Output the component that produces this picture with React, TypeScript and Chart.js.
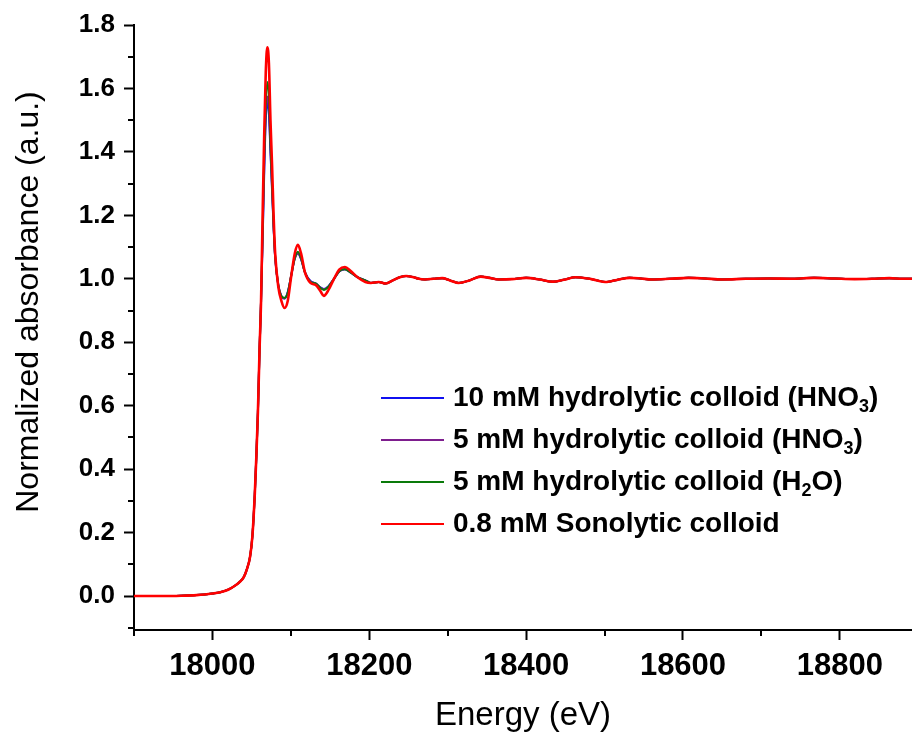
import React, { useEffect, useRef } from 'react';
import { Chart, registerables } from 'chart.js';

Chart.register(...registerables);

// ---------- data ----------
const preEdgeEnergy = [17900, 17920, 17940, 17960, 17980, 17990, 18000, 18010, 18020, 18030, 18035, 18040, 18044, 18048, 18051, 18054, 18056, 18058, 18060, 18062];
const preEdgeValues = [0, 0, 0, 0.001, 0.003, 0.005, 0.008, 0.012, 0.02, 0.035, 0.045, 0.06, 0.085, 0.124, 0.19, 0.32, 0.44, 0.58, 0.77, 0.93];

const edgeEnergy = [18064, 18066, 18068, 18070, 18072, 18074, 18076, 18078, 18080, 18084, 18088, 18092, 18096, 18100, 18105, 18109, 18113, 18118, 18125, 18132, 18138, 18142, 18148, 18155, 18162, 18169, 18176, 18185, 18195];
const blue10mMEdge = [1.12, 1.33, 1.5, 1.555, 1.52, 1.4, 1.28, 1.16, 1.065, 0.98, 0.945, 0.938, 0.958, 1.005, 1.065, 1.08, 1.062, 1.02, 0.993, 0.985, 0.972, 0.968, 0.977, 1.0, 1.024, 1.03, 1.02, 1.005, 0.995];
const purple5mMEdge = [1.13, 1.35, 1.52, 1.575, 1.54, 1.41, 1.29, 1.165, 1.068, 0.98, 0.945, 0.938, 0.956, 1.003, 1.063, 1.08, 1.063, 1.02, 0.992, 0.985, 0.972, 0.967, 0.976, 1.0, 1.024, 1.03, 1.02, 1.005, 0.995];
const green5mMEdge = [1.15, 1.38, 1.55, 1.62, 1.58, 1.43, 1.3, 1.17, 1.07, 0.98, 0.945, 0.94, 0.955, 1.005, 1.065, 1.085, 1.065, 1.02, 0.99, 0.985, 0.97, 0.965, 0.975, 1.0, 1.025, 1.03, 1.02, 1.005, 0.995];
const redSonoEdge = [1.2, 1.45, 1.65, 1.73, 1.68, 1.5, 1.36, 1.2, 1.08, 0.975, 0.93, 0.908, 0.93, 1.0, 1.08, 1.107, 1.08, 1.02, 0.987, 0.98, 0.96, 0.946, 0.965, 1.0, 1.03, 1.037, 1.025, 1.005, 0.99];

const tailEnergy = [18202, 18212, 18221, 18230, 18240, 18247, 18255, 18263, 18271, 18282, 18293, 18303, 18314, 18328, 18342, 18353, 18365, 18382, 18400, 18417, 18434, 18448, 18463, 18483, 18503, 18518, 18532, 18546, 18560, 18583, 18607, 18628, 18650, 18680, 18710, 18740, 18767, 18793, 18819, 18841, 18863, 18880, 18892];
const tailValues = [0.987, 0.99, 0.985, 0.995, 1.006, 1.009, 1.006, 1.0, 0.998, 1.0, 1.002, 0.995, 0.987, 0.995, 1.007, 1.003, 0.998, 0.999, 1.003, 0.998, 0.991, 0.997, 1.005, 0.999, 0.99, 0.998, 1.003, 1.001, 0.998, 1.0, 1.003, 1.001, 0.998, 1.0, 1.001, 1.0, 1.003, 1.001, 0.999, 1.0, 1.002, 1.0, 1.0];

const seriesLabels = [
  '10 mM hydrolytic colloid (HNO₃)',
  '5 mM hydrolytic colloid (HNO₃)',
  '5 mM hydrolytic colloid (H₂O)',
  '0.8 mM Sonolytic colloid',
];
const seriesColors = ['#1010F0', '#7E1E8E', '#0A7A0A', '#FF0000'];
const seriesEdges = [blue10mMEdge, purple5mMEdge, green5mMEdge, redSonoEdge];

const xMajorTicks = [18000, 18200, 18400, 18600, 18800];
const xMinorTicks = [17900, 18100, 18300, 18500, 18700];
const yMajorTicks = [0, 0.2, 0.4, 0.6, 0.8, 1.0, 1.2, 1.4, 1.6, 1.8];
const yMinorTicks = [-0.1, 0.1, 0.3, 0.5, 0.7, 0.9, 1.1, 1.3, 1.5, 1.7];

const xTitle = 'Energy (eV)';
const yTitle = 'Normalized absorbance (a.u.)';

const allEnergy = [...preEdgeEnergy, ...edgeEnergy, ...tailEnergy];

function buildPoints(edge: number[]) {
  const vals = [...preEdgeValues, ...edge, ...tailValues];
  return allEnergy.map((e, i) => ({ x: e, y: vals[i] }));
}

const FONT = "'Liberation Sans', Arial, sans-serif";

const minorTickPlugin = {
  id: 'minorTicks',
  afterDraw(chart: any) {
    const { ctx, scales, chartArea } = chart;
    ctx.save();
    ctx.strokeStyle = '#000';
    ctx.lineWidth = 2;
    ctx.beginPath();
    xMinorTicks.forEach((v) => {
      const px = Math.round(scales.x.getPixelForValue(v));
      ctx.moveTo(px, chartArea.bottom);
      ctx.lineTo(px, chartArea.bottom + 6);
    });
    yMinorTicks.forEach((v) => {
      const py = Math.round(scales.y.getPixelForValue(v));
      ctx.moveTo(chartArea.left, py);
      ctx.lineTo(chartArea.left - 6, py);
    });
    ctx.stroke();
    ctx.restore();
  },
};

const yTitlePlugin = {
  id: 'yTitle',
  afterDraw(chart: any) {
    const { ctx } = chart;
    ctx.save();
    ctx.translate(29, 302);
    ctx.rotate(-Math.PI / 2);
    ctx.fillStyle = '#000';
    ctx.font = `normal 32px ${FONT}`;
    ctx.textAlign = 'center';
    ctx.textBaseline = 'middle';
    ctx.fillText(yTitle, 0, 0);
    ctx.restore();
  },
};

const subMap: Record<string, string> = { '₀': '0', '₁': '1', '₂': '2', '₃': '3', '₄': '4', '₅': '5', '₆': '6', '₇': '7', '₈': '8', '₉': '9' };

const legendPlugin = {
  id: 'customLegend',
  afterDraw(chart: any) {
    const { ctx, chartArea } = chart;
    const lineX0 = chartArea.left + 247;
    const lineX1 = lineX0 + 63;
    const textX = lineX1 + 9;
    const rowY0 = chartArea.top + 373;
    const rowGap = 42;
    ctx.save();
    chart.data.datasets.forEach((ds: any, i: number) => {
      const y = rowY0 + i * rowGap;
      ctx.strokeStyle = ds.borderColor;
      ctx.lineWidth = 2;
      ctx.beginPath();
      ctx.moveTo(lineX0, y);
      ctx.lineTo(lineX1, y);
      ctx.stroke();
      let x = textX;
      ctx.fillStyle = '#000';
      ctx.textBaseline = 'middle';
      ctx.textAlign = 'left';
      for (const ch of Array.from(ds.label as string)) {
        if (subMap[ch]) {
          ctx.font = `bold 18px ${FONT}`;
          ctx.fillText(subMap[ch], x, y + 9);
          x += ctx.measureText(subMap[ch]).width;
        } else {
          ctx.font = `bold 28px ${FONT}`;
          ctx.fillText(ch, x, y);
          x += ctx.measureText(ch).width;
        }
      }
    });
    ctx.restore();
  },
};

export default function App() {
  const canvasRef = useRef<HTMLCanvasElement>(null);

  useEffect(() => {
    document.body.style.margin = '0';
    const canvas = canvasRef.current;
    if (!canvas) return;
    const datasets = seriesLabels.map((label, i) => ({
      label,
      data: buildPoints(seriesEdges[i]),
      borderColor: seriesColors[i],
      backgroundColor: seriesColors[i],
      borderWidth: i === 3 ? 2.6 : 2,
      pointRadius: 0,
      fill: false,
      cubicInterpolationMode: 'monotone' as const,
      order: 3 - i,
    }));

    const chart = new Chart(canvas, {
      type: 'line',
      data: { datasets },
      options: {
        animation: false,
        responsive: false,
        maintainAspectRatio: false,
        layout: { padding: { top: 25, right: 0, left: 0, bottom: 0 } },
        plugins: { legend: { display: false }, tooltip: { enabled: false } },
        scales: {
          x: {
            type: 'linear',
            min: 17900,
            max: 18892,
            afterBuildTicks: (s: any) => {
              s.ticks = xMajorTicks.map((v) => ({ value: v }));
            },
            afterFit: (s: any) => {
              s.height = 106;
            },
            ticks: {
              color: '#000',
              font: { family: "'Liberation Sans Narrow', " + FONT, size: 31, weight: 'bold' },
              padding: 8,
              maxRotation: 0,
              callback: (v: any) => String(v),
            },
            grid: { drawOnChartArea: false, drawTicks: true, tickLength: 10, tickWidth: 2, tickColor: '#000', color: '#000' },
            border: { display: true, color: '#000', width: 2 },
            title: {
              display: true,
              text: xTitle,
              color: '#000',
              font: { family: FONT, size: 33, weight: 'normal' },
              padding: { top: 0, bottom: 0 },
            },
          },
          y: {
            type: 'linear',
            min: -0.107,
            max: 1.8,
            afterBuildTicks: (s: any) => {
              s.ticks = yMajorTicks.map((v) => ({ value: v }));
            },
            afterFit: (s: any) => {
              s.width = 134;
            },
            ticks: {
              color: '#000',
              font: { family: FONT, size: 26, weight: 'bold' },
              padding: 9,
              callback: (v: any) => Number(v).toFixed(1),
            },
            grid: { drawOnChartArea: false, drawTicks: true, tickLength: 10, tickWidth: 2, tickColor: '#000', color: '#000' },
            border: { display: true, color: '#000', width: 2 },
            title: { display: false },
          },
        },
      },
      plugins: [minorTickPlugin, yTitlePlugin, legendPlugin],
    } as any);

    return () => chart.destroy();
  }, []);

  return (
    <div style={{ position: 'fixed', left: 0, top: 0, width: 912, height: 736, background: '#fff' }}>
      <canvas ref={canvasRef} width={912} height={736} style={{ display: 'block', width: 912, height: 736 }} />
    </div>
  );
}
